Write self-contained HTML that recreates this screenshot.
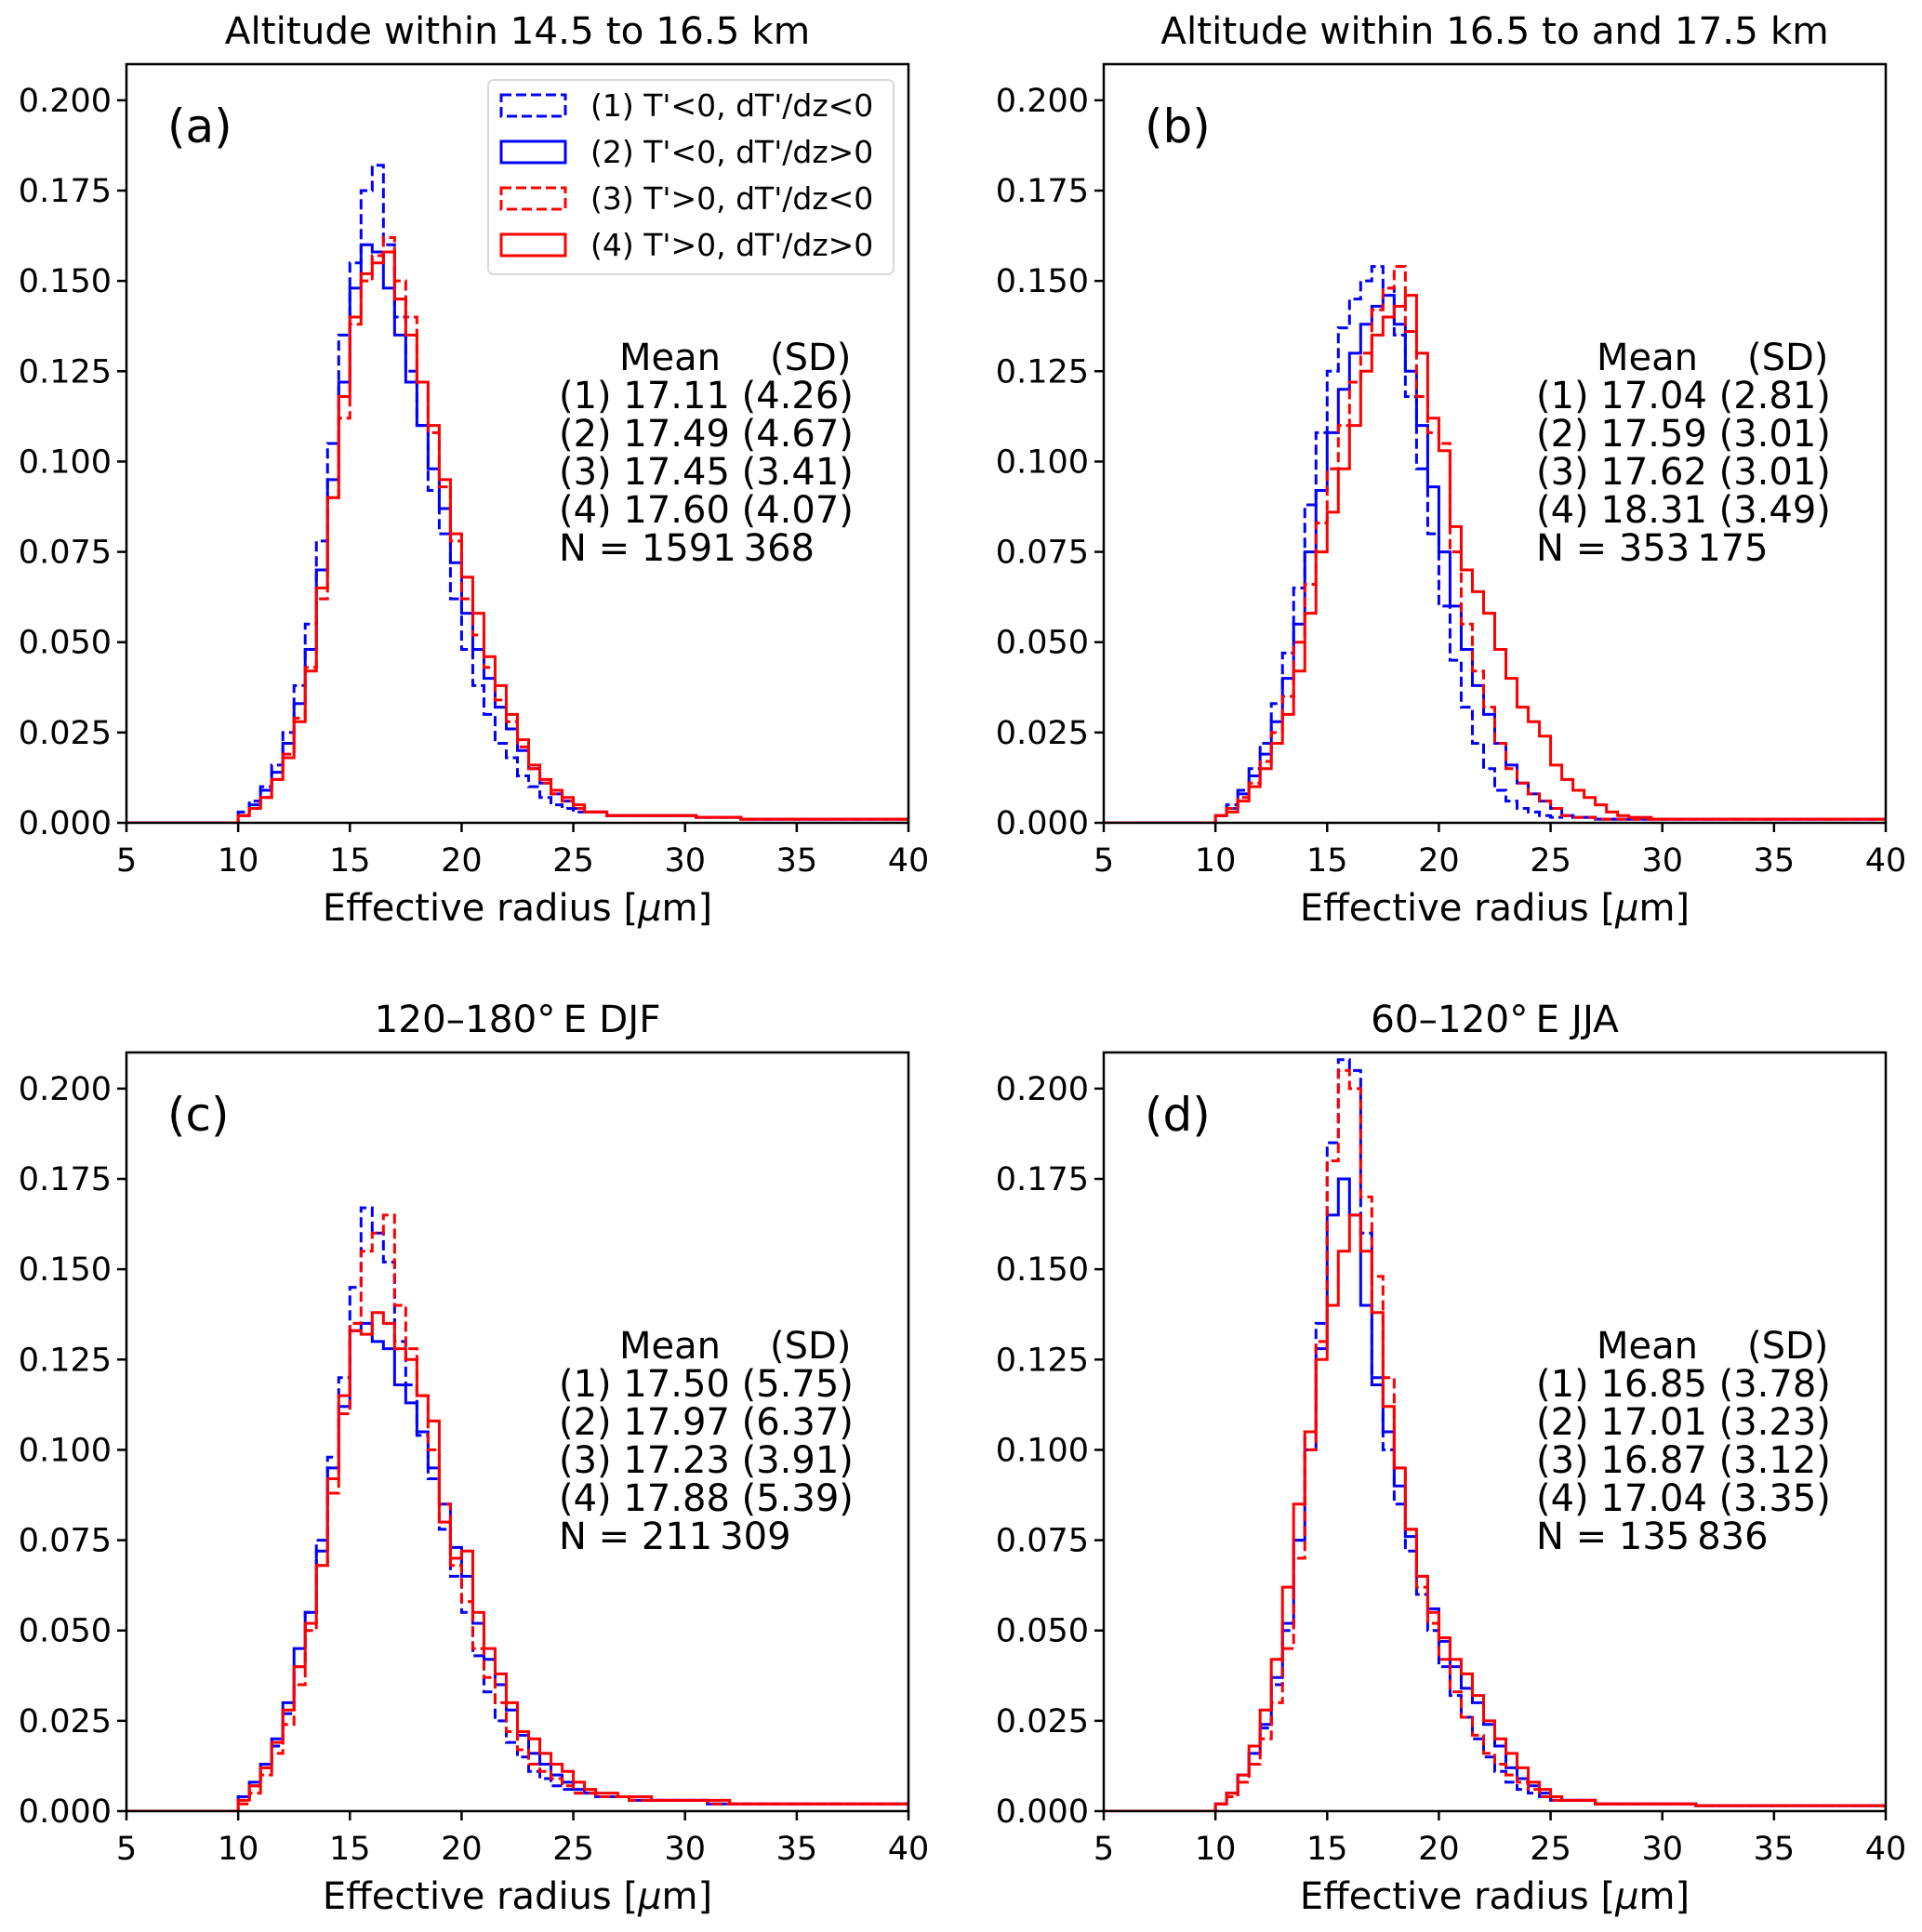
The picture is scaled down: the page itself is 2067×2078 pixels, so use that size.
<!DOCTYPE html>
<html><head><meta charset="utf-8">
<style>
html,body{margin:0;padding:0;background:#fff;}
svg{display:block;font-family:"DejaVu Sans","Liberation Sans",sans-serif;}
</style></head>
<body>
<svg id="fig" width="2067" height="2078" viewBox="0 0 2067 2078" xmlns="http://www.w3.org/2000/svg"></svg>
<script>
// Bins: 0.5 µm wide, starting at 10 µm
const binStart = 10;
const binWidth = 0.5;
const xTicks = [5,10,15,20,25,30,35,40];
const yTicks = [0,0.025,0.05,0.075,0.1,0.125,0.15,0.175,0.2];
const yTickLabels = ["0.000","0.025","0.050","0.075","0.100","0.125","0.150","0.175","0.200"];
const seriesNames = ["(1) T'<0, dT'/dz<0","(2) T'<0, dT'/dz>0","(3) T'>0, dT'/dz<0","(4) T'>0, dT'/dz>0"];

const tailA = [0.003,0.003,0.002,0.002,0.002,0.002,0.002,0.002,0.002,0.002,0.0015,0.0015,0.0015,0.0015,0.001,0.001,0.001,0.001,0.001,0.001,0.001,0.001,0.001,0.001,0.001,0.001,0.001,0.001,0.001];
const tailB = [0.002,0.0015,0.0015,0.001,0.001,0.001,0.001,0.001,0.001,0.001,0.001,0.001,0.001,0.001,0.001,0.001,0.001,0.001,0.001,0.001,0.001,0.001,0.001,0.001,0.001,0.001,0.001,0.001,0.001];
const tailC = [0.005,0.004,0.004,0.004,0.003,0.003,0.003,0.003,0.003,0.003,0.003,0.002,0.002,0.002,0.002,0.002,0.002,0.002,0.002,0.002,0.002,0.002,0.002,0.002,0.002,0.002,0.002,0.002,0.002];
const tailD = [0.003,0.003,0.003,0.002,0.002,0.002,0.002,0.002,0.002,0.002,0.002,0.002,0.0015,0.0015,0.0015,0.0015,0.0015,0.0015,0.0015,0.0015,0.0015,0.0015,0.0015,0.0015,0.0015,0.0015,0.0015,0.0015,0.0015];

const a1 = [0.003,0.006,0.010,0.016,0.025,0.038,0.055,0.078,0.105,0.135,0.155,0.175,0.182,0.160,0.140,0.125,0.110,0.092,0.080,0.062,0.048,0.038,0.030,0.022,0.018,0.013,0.010,0.007,0.005,0.004,0.003];
const a2 = [0.002,0.005,0.009,0.014,0.022,0.033,0.048,0.070,0.095,0.122,0.148,0.160,0.158,0.148,0.135,0.122,0.110,0.098,0.087,0.072,0.058,0.048,0.040,0.032,0.026,0.020,0.015,0.011,0.008,0.006,0.004];
const a3 = [0.002,0.004,0.007,0.012,0.019,0.029,0.043,0.062,0.090,0.112,0.138,0.150,0.157,0.162,0.150,0.140,0.122,0.108,0.093,0.078,0.062,0.052,0.043,0.034,0.028,0.021,0.015,0.011,0.008,0.006,0.004];
const a4 = [0.002,0.004,0.007,0.012,0.018,0.028,0.042,0.065,0.090,0.118,0.140,0.152,0.155,0.158,0.145,0.135,0.122,0.110,0.095,0.080,0.068,0.058,0.046,0.038,0.030,0.023,0.016,0.012,0.009,0.007,0.005];

const b1 = [0.002,0.005,0.009,0.015,0.022,0.033,0.047,0.065,0.088,0.108,0.125,0.137,0.145,0.150,0.154,0.148,0.135,0.118,0.098,0.080,0.060,0.045,0.032,0.022,0.015,0.009,0.006,0.004,0.003,0.002,0.0015];
const b2 = [0.002,0.004,0.008,0.013,0.019,0.028,0.040,0.055,0.075,0.092,0.108,0.120,0.130,0.138,0.143,0.146,0.138,0.125,0.110,0.093,0.075,0.060,0.048,0.038,0.030,0.022,0.016,0.011,0.008,0.006,0.004];
const b3 = [0.002,0.004,0.007,0.011,0.017,0.025,0.035,0.050,0.066,0.083,0.098,0.110,0.122,0.130,0.142,0.148,0.154,0.136,0.118,0.108,0.105,0.075,0.055,0.042,0.032,0.022,0.015,0.011,0.008,0.006,0.004];
const b4 = [0.002,0.003,0.006,0.010,0.015,0.022,0.030,0.042,0.058,0.075,0.086,0.098,0.110,0.125,0.135,0.140,0.143,0.146,0.130,0.112,0.103,0.082,0.070,0.064,0.058,0.048,0.040,0.032,0.028,0.024,0.016,0.012,0.009,0.007,0.005,0.003];

const c1 = [0.003,0.007,0.012,0.018,0.027,0.040,0.055,0.075,0.098,0.120,0.145,0.167,0.160,0.152,0.130,0.118,0.104,0.092,0.078,0.065,0.055,0.043,0.033,0.025,0.019,0.015,0.011,0.009,0.007,0.006,0.005];
const c2 = [0.004,0.008,0.013,0.020,0.030,0.045,0.055,0.072,0.095,0.112,0.133,0.135,0.130,0.128,0.118,0.113,0.105,0.095,0.085,0.073,0.065,0.052,0.042,0.035,0.028,0.021,0.016,0.013,0.010,0.008,0.006];
const c3 = [0.002,0.005,0.010,0.016,0.024,0.035,0.050,0.068,0.088,0.110,0.135,0.155,0.160,0.165,0.140,0.128,0.115,0.100,0.085,0.068,0.058,0.045,0.037,0.030,0.022,0.017,0.013,0.011,0.009,0.007,0.005];
const c4 = [0.003,0.007,0.012,0.019,0.028,0.040,0.052,0.068,0.092,0.115,0.133,0.132,0.138,0.135,0.128,0.125,0.115,0.108,0.080,0.070,0.072,0.055,0.045,0.038,0.030,0.022,0.020,0.016,0.013,0.011,0.008,0.006,0.005];

const d1 = [0.002,0.005,0.010,0.016,0.023,0.035,0.050,0.075,0.105,0.135,0.185,0.208,0.205,0.160,0.120,0.100,0.085,0.072,0.060,0.050,0.040,0.032,0.026,0.020,0.015,0.011,0.008,0.006,0.005,0.004,0.003];
const d2 = [0.002,0.005,0.010,0.016,0.024,0.037,0.052,0.075,0.100,0.128,0.165,0.175,0.165,0.140,0.118,0.105,0.090,0.076,0.065,0.056,0.047,0.040,0.034,0.030,0.024,0.018,0.012,0.009,0.007,0.005,0.004];
const d3 = [0.002,0.004,0.008,0.013,0.020,0.030,0.045,0.070,0.100,0.130,0.180,0.205,0.200,0.170,0.148,0.120,0.095,0.078,0.062,0.052,0.042,0.033,0.026,0.021,0.016,0.013,0.010,0.008,0.006,0.004,0.003];
const d4 = [0.002,0.005,0.010,0.018,0.028,0.042,0.062,0.085,0.105,0.125,0.140,0.155,0.165,0.155,0.138,0.112,0.095,0.078,0.065,0.055,0.048,0.042,0.038,0.032,0.025,0.020,0.016,0.012,0.008,0.006,0.004];

const statsA = ["(1) 17.11 (4.26)","(2) 17.49 (4.67)","(3) 17.45 (3.41)","(4) 17.60 (4.07)","N = 1591\u2009368"];
const statsB = ["(1) 17.04 (2.81)","(2) 17.59 (3.01)","(3) 17.62 (3.01)","(4) 18.31 (3.49)","N = 353\u2009175"];
const statsC = ["(1) 17.50 (5.75)","(2) 17.97 (6.37)","(3) 17.23 (3.91)","(4) 17.88 (5.39)","N = 211\u2009309"];
const statsD = ["(1) 16.85 (3.78)","(2) 17.01 (3.23)","(3) 16.87 (3.12)","(4) 17.04 (3.35)","N = 135\u2009836"];

const panels = [
  {id:"a",x0:136,x1:977,y0:69,y1:885,title:"Altitude within 14.5 to 16.5 km",series:[a1,a2,a3,a4],tail:tailA,stats:statsA,legend:true},
  {id:"b",x0:1187,x1:2028,y0:69,y1:885,title:"Altitude within 16.5 to and 17.5 km",series:[b1,b2,b3,b4],tail:tailB,stats:statsB,legend:false},
  {id:"c",x0:136,x1:977,y0:1132,y1:1948,title:"120\u2013180\u00b0\u2009E DJF",series:[c1,c2,c3,c4],tail:tailC,stats:statsC,legend:false},
  {id:"d",x0:1187,x1:2028,y0:1132,y1:1948,title:"60\u2013120\u00b0\u2009E JJA",series:[d1,d2,d3,d4],tail:tailD,stats:statsD,legend:false}
];
const colors = ["#0000ff","#0000ff","#ff0000","#ff0000"];
const dashed = [true,false,true,false];

const NS = "http://www.w3.org/2000/svg";
const svg = document.getElementById("fig");
function mk(tag, attrs, parent){
  const e = document.createElementNS(NS, tag);
  for (const k in attrs) e.setAttribute(k, attrs[k]);
  (parent||svg).appendChild(e);
  return e;
}
const defs = mk("defs",{});

panels.forEach(p=>{
  const g = mk("g",{});
  
  
  const xs = v => p.x0 + (v-5)/(40-5)*(p.x1-p.x0);
  const ys = v => p.y1 - v/0.21*(p.y1-p.y0);
  const cp = mk("clipPath",{id:"clip-"+p.id},defs);
  mk("rect",{x:p.x0,y:p.y0,width:p.x1-p.x0,height:p.y1-p.y0},cp);

  const t = mk("text",{x:(p.x0+p.x1)/2,y:p.y0-22,"text-anchor":"middle","font-size":40.5,fill:"#000"},g);
  t.textContent = p.title;
  
  

  const sg = mk("g",{"clip-path":"url(#clip-"+p.id+")"},g);
  p.series.forEach((s,i)=>{
    const vals = s.concat(p.tail).slice(0,60);
    let d = "M"+xs(5)+","+ys(0)+" L"+xs(binStart)+","+ys(0);
    vals.forEach((v,k)=>{
      const xa = xs(binStart+k*binWidth), xb = xs(binStart+(k+1)*binWidth);
      d += " L"+xa+","+ys(v)+" L"+xb+","+ys(v);
    });
    d += " L"+xs(40)+","+ys(0);
    const path = mk("path",{d:d,fill:"none",stroke:colors[i],"stroke-width":3,"stroke-linejoin":"miter"},sg);
    if (dashed[i]) path.setAttribute("stroke-dasharray","11,5");
    
    
  });

  const fr = mk("rect",{x:p.x0,y:p.y0,width:p.x1-p.x0,height:p.y1-p.y0,fill:"none",stroke:"#000","stroke-width":2.5},g);
  
  

  xTicks.forEach(v=>{
    mk("line",{x1:xs(v),x2:xs(v),y1:p.y1,y2:p.y1+10,stroke:"#000","stroke-width":2.5},g);
    const tl = mk("text",{x:xs(v),y:p.y1+52,"text-anchor":"middle","font-size":35,fill:"#000"},g);
    tl.textContent = v;
    
    
  });
  yTicks.forEach((v,k)=>{
    mk("line",{x1:p.x0-10,x2:p.x0,y1:ys(v),y2:ys(v),stroke:"#000","stroke-width":2.5},g);
    const tl = mk("text",{x:p.x0-16,y:ys(v)+12,"text-anchor":"end","font-size":35,fill:"#000"},g);
    tl.textContent = yTickLabels[k];
    
    
  });
  const xl = mk("text",{x:(p.x0+p.x1)/2,y:p.y1+105,"text-anchor":"middle","font-size":40,fill:"#000"},g);
  xl.innerHTML = 'Effective radius [<tspan font-style="italic">\u03bc</tspan>m]';
  
  

  const pl = mk("text",{x:p.x0+44,y:p.y0+84,"font-size":50,fill:"#000"},g);
  pl.textContent = "("+p.id+")";
  
  

  const hx = p.x0+465;
  const h1 = mk("text",{x:hx+65,y:p.y0+329,"font-size":40,fill:"#000"},g);
  h1.textContent = "Mean";
  
  
  const h2 = mk("text",{x:hx+227,y:p.y0+329,"font-size":40,fill:"#000"},g);
  h2.textContent = "(SD)";
  
  
  p.stats.forEach((s,k)=>{
    const st = mk("text",{x:hx,y:p.y0+370+k*41,"font-size":40,fill:"#000"},g);
    st.textContent = s;
    
    
  });

  if (p.legend){
    const lg = mk("g",{},g);
    
    
    mk("rect",{x:525,y:86,width:436,height:209,rx:6,fill:"#fff","fill-opacity":0.8,stroke:"#d9d9d9","stroke-width":2},lg);
    seriesNames.forEach((n,i)=>{
      const cy = 113 + i*50;
      const r = mk("rect",{x:539,y:cy-11,width:69,height:23,fill:"none",stroke:colors[i],"stroke-width":3},lg);
      if (dashed[i]) r.setAttribute("stroke-dasharray","11,5");
      
      
      const lt = mk("text",{x:635,y:cy+12,"font-size":33,fill:"#000"},lg);
      lt.textContent = n;
      
      
    });
  }
});
</script>
</body></html>
